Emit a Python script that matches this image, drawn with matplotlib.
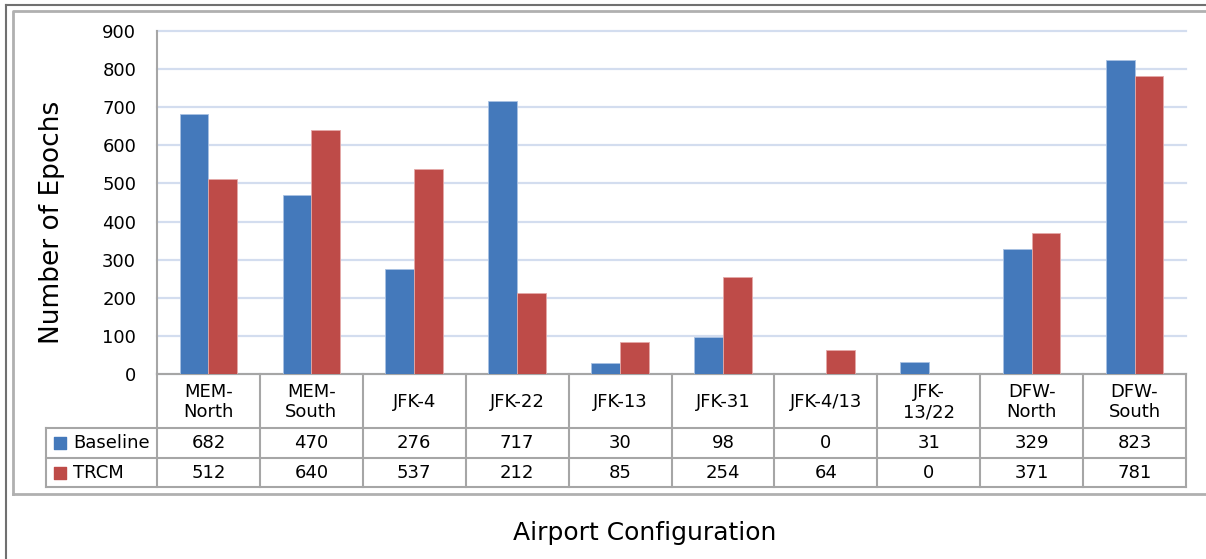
import matplotlib.pyplot as plt
import numpy as np

# Airport configurations (table column headers)
configs = ['MEM-\nNorth', 'MEM-\nSouth', 'JFK-4', 'JFK-22', 'JFK-13', 'JFK-31',
           'JFK-4/13', 'JFK-\n13/22', 'DFW-\nNorth', 'DFW-\nSouth']
baseline = [682, 470, 276, 717, 30, 98, 0, 31, 329, 823]
trcm = [512, 640, 537, 212, 85, 254, 64, 0, 371, 781]
series_names = ['Baseline', 'TRCM']
yticks = [0, 100, 200, 300, 400, 500, 600, 700, 800, 900]

blue = '#4479bb'
red = '#be4b48'
grid_c = '#d3ddef'
line_c = '#a6a6a6'
FONT = 'DejaVu Sans'
FS = 13

W, H = 1206, 559
fig = plt.figure(figsize=(W / 100, H / 100), dpi=100)


def fx(px):
    return px / W


def fy(py):
    return 1 - py / H


# frames around the chart
fig.add_artist(plt.Line2D([fx(6), fx(6)], [0, fy(5)], color='#707070', lw=1.5))
fig.add_artist(plt.Line2D([fx(6), 1], [fy(5), fy(5)], color='#707070', lw=1.5))
fig.add_artist(plt.Line2D([fx(13), fx(13), 1], [fy(494), fy(11), fy(11)], color='#b0b0b0', lw=2))
fig.add_artist(plt.Line2D([fx(13), 1], [fy(494), fy(494)], color='#b0b0b0', lw=2))

# main bar axes
x0, x1, ytop, ybot = 157, 1186, 31, 374
ax = fig.add_axes([fx(x0), fy(ybot), fx(x1 - x0), (ybot - ytop) / H])
x = np.arange(len(configs))
bw = 0.28
ax.bar(x - bw / 2, baseline, bw, color=blue, edgecolor='#a9c2e3', linewidth=0.6, zorder=3)
ax.bar(x + bw / 2, trcm, bw, color=red, edgecolor='#e4a9a8', linewidth=0.6, zorder=3)
ax.set_xlim(-0.5, len(configs) - 0.5)
ax.set_ylim(0, 900)
ax.set_yticks(yticks)
ax.set_yticklabels([str(v) for v in yticks], fontsize=FS, family=FONT)
ax.tick_params(axis='y', length=0, pad=15)
ax.set_xticks([])
ax.yaxis.grid(True, color=grid_c, lw=1.6, zorder=0)
for gl in ax.get_ygridlines():
    gl.set_clip_on(False)
for s in ['top', 'right']:
    ax.spines[s].set_visible(False)
ax.spines['left'].set_color(line_c)
ax.spines['left'].set_linewidth(1.5)
ax.spines['bottom'].set_color(line_c)
ax.spines['bottom'].set_linewidth(1.5)

# data table below the axes
t_top, t_bot = 374, 487
tax = fig.add_axes([fx(x0), fy(t_bot), fx(x1 - x0), (t_bot - t_top) / H])
tax.set_xlim(-0.5, len(configs) - 0.5)
tax.set_ylim(t_bot - t_top, 0)
tax.axis('off')
r1, r2, r3 = 54, 84, 113
cw = (x1 - x0) / len(configs)
left_edge = -0.5 - (x0 - 46) / cw
kw = dict(color=line_c, lw=1.5, clip_on=False)
for i in range(len(configs) + 1):
    tax.plot([i - 0.5, i - 0.5], [0, r3], **kw)
tax.plot([left_edge, len(configs) - 0.5], [r1, r1], **kw)
tax.plot([left_edge, len(configs) - 0.5], [r2, r2], **kw)
tax.plot([left_edge, len(configs) - 0.5], [r3, r3], **kw)
tax.plot([left_edge, left_edge], [r1, r3], **kw)

for i, name in enumerate(configs):
    tax.text(i, r1 / 2 + 1, name, ha='center', va='center', fontsize=FS,
             family=FONT, linespacing=1.2)
    tax.text(i, (r1 + r2) / 2, str(baseline[i]), ha='center', va='center',
             fontsize=FS, family=FONT)
    tax.text(i, (r2 + r3) / 2, str(trcm[i]), ha='center', va='center',
             fontsize=FS, family=FONT)

for (ya, yb), name, c in zip([(r1, r2), (r2, r3)], series_names, [blue, red]):
    ym = (ya + yb) / 2
    tax.scatter([left_edge + 0.136], [ym], marker='s', s=80, color=c, clip_on=False)
    tax.text(left_edge + 0.26, ym, name, ha='left', va='center', fontsize=FS,
             family=FONT)

fig.text(fx(52), fy(222), 'Number of Epochs', rotation=90, ha='center', va='center',
         fontsize=19, family=FONT)
fig.text(fx(645), fy(533), 'Airport Configuration', ha='center', va='center',
         fontsize=18, family=FONT)

fig.savefig('out.png', dpi=100)
